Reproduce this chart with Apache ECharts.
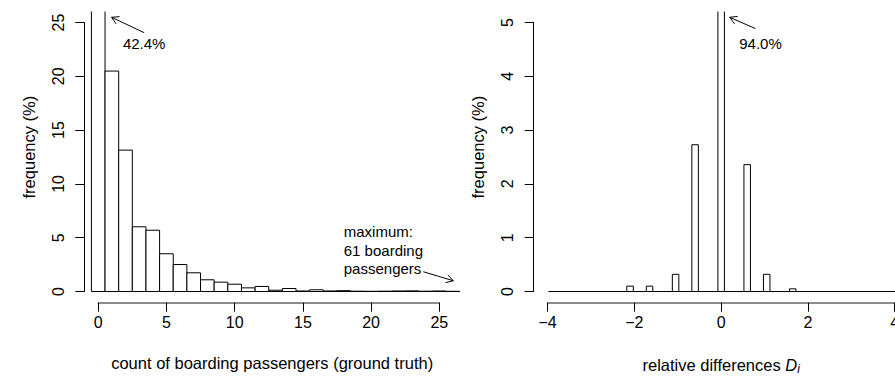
<!DOCTYPE html>
<html><head><meta charset="utf-8">
<script src="https://cdn.jsdelivr.net/npm/echarts@6/dist/echarts.min.js"></script>
<style>html,body{margin:0;padding:0;background:#fff}#c{width:895px;height:378px}</style>
</head><body><div id="c"></div>
<script>
// ---------- data: left panel (count of boarding passengers) ----------
const countBins = [0,1,2,3,4,5,6,7,8,9,10,11,12,13,14,15,16,17,18,19,20,21,22,23,24,25,26];
const countFreq = [42.4,20.5,13.15,6.02,5.70,3.51,2.51,1.74,1.09,0.87,0.68,0.34,0.47,0.12,0.28,0.05,0.16,0.05,0.08,0.03,0.02,0.03,0.05,0.06,0.03,0.05,0.02];
const countTicks = [0,5,10,15,20,25];
const freqTicksLeft = [0,5,10,15,20,25];

// ---------- data: right panel (relative differences) ----------
const diffBinStart = -3.975;
const diffBinWidth = 0.15;
const diffFreq = [
  0,0,0,0,0,0,0,0,0,0, 0,0,0.10,0,0,0.10,0,0,0,0.32,
  0,0,2.73,0,0,0,94.0,0,0,0, 2.36,0,0,0.32,0,0,0,0.05,0,0,
  0,0,0,0,0,0,0,0,0,0, 0,0,0,0,0
];
const diffTicks = [-4,-2,0,2,4];
const freqTicksRight = [0,1,2,3,4,5];

// ---------- text ----------
const xTitleLeft = 'count of boarding passengers (ground truth)';
const yTitle = 'frequency (%)';
const annotLeftTop = '42.4%';
const annotLeftMax = 'maximum:\n61 boarding\npassengers';
const annotRightTop = '94.0%';

const FONT = "'Liberation Sans', Arial, Helvetica, sans-serif";
const FS = 15;      // annotations
const FS_TICK = 16; // tick labels
const FS_LAB = 16.5; // axis titles

const countData = countBins.map((c, i) => [c - 0.5, c + 0.5, countFreq[i]]);
const diffData = diffFreq.map((v, i) => [diffBinStart + i * diffBinWidth, diffBinStart + (i + 1) * diffBinWidth, v]);

function fmt(v){ return v < 0 ? '\u2212' + Math.abs(v) : String(v); }

function histItem(params, api){
  const a = api.coord([api.value(0), 0]);
  const b = api.coord([api.value(1), api.value(2)]);
  return {type:'rect', shape:{x:a[0], y:b[1], width:b[0]-a[0], height:a[1]-b[1]},
          style:{fill:'#fff', stroke:'#000', lineWidth:1}};
}

const hidden = {show:true, axisLine:{show:false}, axisTick:{show:false}, axisLabel:{show:false}, splitLine:{show:false}};
const off = {show:false};
const lineStyle = {color:'#000', width:1};
const tickStyle = {color:'#000', fontSize:FS_TICK, fontFamily:FONT};
const titleStyle = {color:'#000', fontSize:FS_LAB, fontFamily:FONT};

function visX(gi, ticks){
  return {gridIndex:gi, type:'value', min:ticks[0], max:ticks[ticks.length-1], interval:ticks[1]-ticks[0],
    axisLine:{show:true, lineStyle:{color:'#666', width:1.6}}, axisTick:{show:true, inside:false, length:9, lineStyle:lineStyle},
    axisLabel:Object.assign({margin:12, formatter:fmt, showMinLabel:true, showMaxLabel:true, hideOverlap:false}, tickStyle), splitLine:{show:false}};
}
function visY(gi, ticks){
  return {gridIndex:gi, type:'value', min:ticks[0], max:ticks[ticks.length-1], interval:ticks[1]-ticks[0],
    axisLine:{show:true, lineStyle:lineStyle}, axisTick:{show:true, inside:false, length:9, lineStyle:lineStyle},
    axisLabel:Object.assign({margin:18, rotate:90, formatter:fmt}, tickStyle), splitLine:{show:false}};
}

const gridBase = {outerBoundsMode:'none', containLabel:false};
const chart = echarts.init(document.getElementById('c'), null, {renderer:'svg'});
const option = {
  animation:false,
  backgroundColor:'#fff',
  grid:[
    Object.assign({left:84.3, top:11.5, width:375.7, height:291.2}, gridBase),   // 0 plot L
    Object.assign({left:98.3, top:11.5, width:341, height:291.2}, gridBase),     // 1 x-axis L
    Object.assign({left:84.3, top:22.5, width:375.7, height:269}, gridBase),     // 2 y-axis L
    Object.assign({left:533.7, top:11.5, width:374.9, height:291.2}, gridBase),  // 3 plot R
    Object.assign({left:547.6, top:11.5, width:347.1, height:291.2}, gridBase),  // 4 x-axis R
    Object.assign({left:533.7, top:22.5, width:374.9, height:269}, gridBase)     // 5 y-axis R
  ],
  xAxis:[
    Object.assign({gridIndex:0, type:'value', min:-1.02, max:26.52, name:xTitleLeft, nameLocation:'middle', nameGap:52,
      nameTextStyle:titleStyle}, hidden),
    visX(1, countTicks),
    Object.assign({gridIndex:2, type:'value', min:0, max:1}, off),
    Object.assign({gridIndex:3, type:'value', min:-4.32, max:4.32, name:'relative differences {d|D}{s|i}', nameLocation:'middle', nameGap:52,
      nameTextStyle:Object.assign({rich:{
        d:{fontSize:FS_LAB, fontFamily:FONT, fontStyle:'italic', color:'#000'},
        s:{fontSize:12, fontFamily:FONT, fontStyle:'italic', color:'#000', verticalAlign:'bottom', padding:[8,0,0,0]}
      }}, titleStyle)}, hidden),
    visX(4, diffTicks),
    Object.assign({gridIndex:5, type:'value', min:0, max:1}, off)
  ],
  yAxis:[
    Object.assign({gridIndex:0, type:'value', min:-1.04, max:26.04, name:yTitle, nameLocation:'middle', nameGap:47,
      nameTextStyle:Object.assign({padding:[0,0,0,20]}, titleStyle)}, hidden),
    Object.assign({gridIndex:1, type:'value', min:0, max:1}, off),
    visY(2, freqTicksLeft),
    Object.assign({gridIndex:3, type:'value', min:-0.208, max:5.208, name:yTitle, nameLocation:'middle', nameGap:47,
      nameTextStyle:Object.assign({padding:[0,0,0,20]}, titleStyle)}, hidden),
    Object.assign({gridIndex:4, type:'value', min:0, max:1}, off),
    visY(5, freqTicksRight)
  ],
  series:[
    {type:'custom', xAxisIndex:0, yAxisIndex:0, clip:true, silent:true, data:countData, renderItem:histItem},
    {type:'custom', xAxisIndex:3, yAxisIndex:3, clip:true, silent:true, data:diffData, renderItem:histItem}
  ]
};
chart.setOption(option);

// ---------- annotations (in data coordinates) ----------
const annotations = [
  {grid:0, text:annotLeftTop, at:[3.37, 23.09], align:'center', tail:[3.37, 24.07], tip:[0.98, 25.5]},
  {grid:0, text:annotLeftMax, at:[18.0, 3.85], align:'left', tail:[23.83, 1.84], tip:[26.03, 1.0]},
  {grid:3, text:annotRightTop, at:[0.906, 4.62], align:'center', tail:[0.79, 4.89], tip:[0.198, 5.10]}
];
function arrowEls(p0, p1){
  const ang = Math.atan2(p1[1]-p0[1], p1[0]-p0[0]);
  const L = 8, phi = Math.PI/6;
  const w1 = [p1[0]-L*Math.cos(ang-phi), p1[1]-L*Math.sin(ang-phi)];
  const w2 = [p1[0]-L*Math.cos(ang+phi), p1[1]-L*Math.sin(ang+phi)];
  return [
    {type:'line', shape:{x1:p0[0], y1:p0[1], x2:p1[0], y2:p1[1]}, style:{stroke:'#000', lineWidth:1}, silent:true},
    {type:'polyline', shape:{points:[w1, p1, w2]}, style:{stroke:'#000', fill:null, lineWidth:1}, silent:true}
  ];
}
const g = [];
annotations.forEach(a => {
  const p = chart.convertToPixel({gridIndex:a.grid}, a.at);
  g.push({type:'text', x:p[0], y:p[1], silent:true,
    style:{text:a.text, fontSize:FS, fontFamily:FONT, fill:'#000', align:a.align, verticalAlign:'middle', lineHeight:18.3}});
  const t0 = chart.convertToPixel({gridIndex:a.grid}, a.tail);
  const t1 = chart.convertToPixel({gridIndex:a.grid}, a.tip);
  arrowEls(t0, t1).forEach(e => g.push(e));
});
chart.setOption({graphic:g});
</script>
</body></html>
